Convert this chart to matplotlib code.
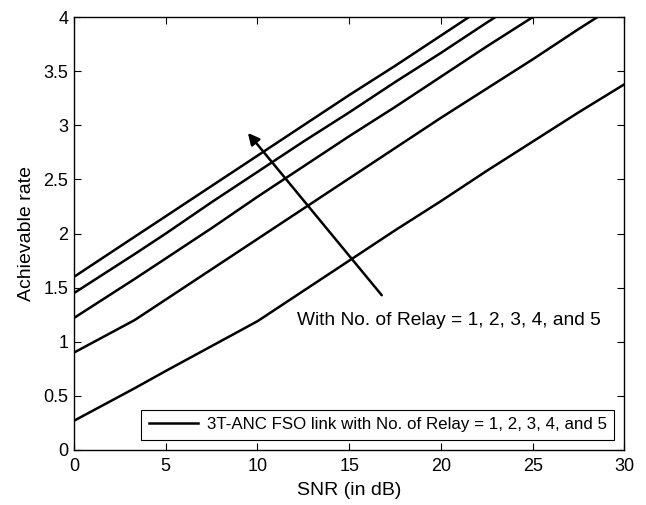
import matplotlib
matplotlib.use("Agg")
from matplotlib import pyplot as plt

plt.rcParams['font.family'] = ['Liberation Sans', 'DejaVu Sans']

# SNR points (dB) and achievable rate for No. of Relay = 1..5
snr = [0, 3.3, 5, 7.5, 10, 12.5, 15, 17.5, 20, 22.5, 25, 27.5, 30]
relay1 = [0.27, 0.57, 0.73, 0.96, 1.19, 1.47, 1.75, 2.03, 2.30, 2.58, 2.85, 3.12, 3.38]
relay2 = [0.90, 1.20, 1.39, 1.67, 1.95, 2.23, 2.51, 2.79, 3.07, 3.34, 3.61, 3.89, 4.16]
relay3 = [1.22, 1.58, 1.77, 2.05, 2.34, 2.62, 2.90, 3.17, 3.45, 3.73, 4.00, 4.28, 4.55]
relay4 = [1.45, 1.81, 2.00, 2.29, 2.57, 2.85, 3.12, 3.40, 3.67, 3.95, 4.22, 4.50, 4.78]
relay5 = [1.60, 1.97, 2.16, 2.44, 2.72, 3.00, 3.28, 3.55, 3.83, 4.11, 4.39, 4.67, 4.95]
rates = [relay1, relay2, relay3, relay4, relay5]

fig = plt.figure(figsize=(6.46, 5.05), dpi=100)
ax = fig.add_axes([0.1146, 0.109, 0.852, 0.857])

for i, r in enumerate(rates):
    lbl = '3T-ANC FSO link with No. of Relay = 1, 2, 3, 4, and 5' if i == 0 else None
    ax.plot(snr, r, color='black', linewidth=1.8, label=lbl)

ax.set_xlim(0, 30)
ax.set_ylim(0, 4)
ax.set_xticks(range(0, 31, 5))
ax.set_yticks([0, 0.5, 1, 1.5, 2, 2.5, 3, 3.5, 4])
ax.set_yticklabels(['0', '0.5', '1', '1.5', '2', '2.5', '3', '3.5', '4'])
ax.tick_params(direction='in', top=True, right=True, labelsize=13, length=5)
ax.tick_params(axis='x', pad=6)
ax.tick_params(axis='y', pad=4)
for s in ax.spines.values():
    s.set_linewidth(1.0)

ax.set_xlabel('SNR (in dB)', fontsize=14, labelpad=5)
ax.set_ylabel('Achievable rate', fontsize=14, labelpad=6)

ax.annotate('', xy=(9.38, 2.95), xytext=(16.87, 1.41),
            arrowprops=dict(arrowstyle='-|>', color='black', lw=1.8,
                            mutation_scale=17))
ax.text(12.15, 1.2, 'With No. of Relay = 1, 2, 3, 4, and 5',
        fontsize=13.8, va='center', ha='left')

leg = ax.legend(loc='lower right', fontsize=12.2, handlelength=2.9,
                fancybox=False, framealpha=1, edgecolor='black',
                borderaxespad=0.6, borderpad=0.45, handletextpad=0.5)
leg.get_frame().set_linewidth(0.8)

fig.savefig('out.png', dpi=100)
